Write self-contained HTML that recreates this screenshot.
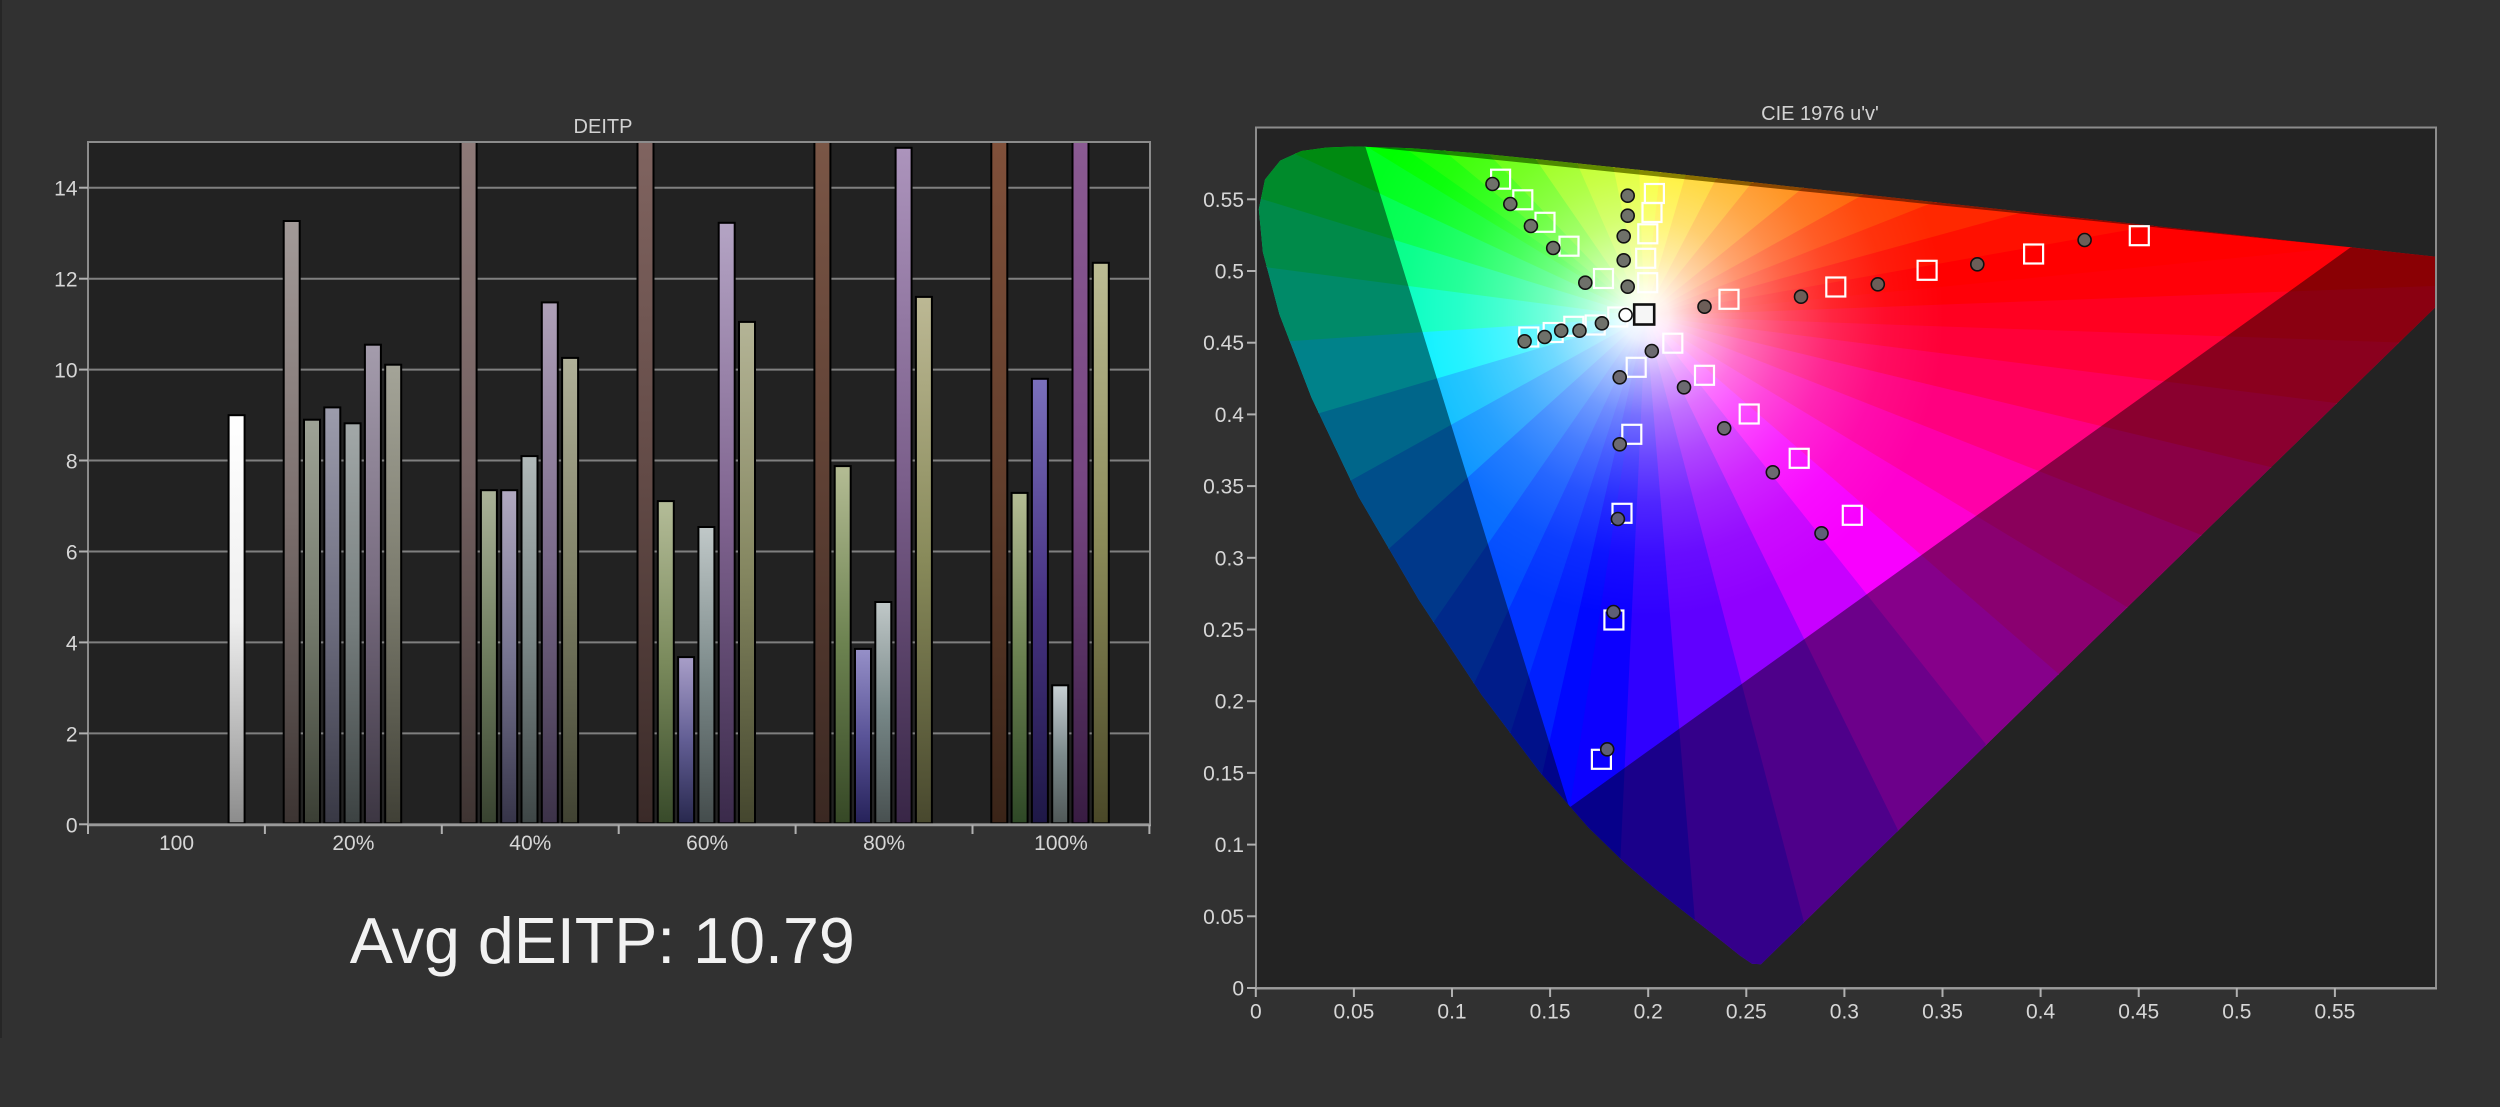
<!DOCTYPE html>
<html><head><meta charset="utf-8"><style>
html,body{margin:0;padding:0;background:#313131;width:2500px;height:1107px;overflow:hidden;}
svg{display:block;}
text{font-family:"Liberation Sans",Arial,sans-serif;}
</style></head><body>
<svg width="2500" height="1107" viewBox="0 0 2500 1107" xmlns="http://www.w3.org/2000/svg">
<defs>
<linearGradient id="b06" x1="0" y1="0" x2="0" y2="1"><stop offset="0" stop-color="#ffffff"/><stop offset=".5" stop-color="#efefef"/><stop offset="1" stop-color="#8c8c8c"/></linearGradient>
<linearGradient id="b10" x1="0" y1="0" x2="0" y2="1"><stop offset="0" stop-color="#a29a98"/><stop offset=".5" stop-color="#7a6e6c"/><stop offset="1" stop-color="#3c3432"/></linearGradient>
<linearGradient id="b11" x1="0" y1="0" x2="0" y2="1"><stop offset="0" stop-color="#9ea296"/><stop offset=".5" stop-color="#747a6c"/><stop offset="1" stop-color="#3a3e34"/></linearGradient>
<linearGradient id="b12" x1="0" y1="0" x2="0" y2="1"><stop offset="0" stop-color="#9c9cac"/><stop offset=".5" stop-color="#6e6e80"/><stop offset="1" stop-color="#383844"/></linearGradient>
<linearGradient id="b13" x1="0" y1="0" x2="0" y2="1"><stop offset="0" stop-color="#a2a8a8"/><stop offset=".5" stop-color="#767e7e"/><stop offset="1" stop-color="#3c4242"/></linearGradient>
<linearGradient id="b14" x1="0" y1="0" x2="0" y2="1"><stop offset="0" stop-color="#a49cac"/><stop offset=".5" stop-color="#786c80"/><stop offset="1" stop-color="#3c3642"/></linearGradient>
<linearGradient id="b15" x1="0" y1="0" x2="0" y2="1"><stop offset="0" stop-color="#a4a498"/><stop offset=".5" stop-color="#7a7a6c"/><stop offset="1" stop-color="#404036"/></linearGradient>
<linearGradient id="b20" x1="0" y1="0" x2="0" y2="1"><stop offset="0" stop-color="#8e7a78"/><stop offset=".5" stop-color="#726060"/><stop offset="1" stop-color="#3e3432"/></linearGradient>
<linearGradient id="b21" x1="0" y1="0" x2="0" y2="1"><stop offset="0" stop-color="#aab298"/><stop offset=".5" stop-color="#6e7c5e"/><stop offset="1" stop-color="#384230"/></linearGradient>
<linearGradient id="b22" x1="0" y1="0" x2="0" y2="1"><stop offset="0" stop-color="#b0a8c0"/><stop offset=".5" stop-color="#767490"/><stop offset="1" stop-color="#363448"/></linearGradient>
<linearGradient id="b23" x1="0" y1="0" x2="0" y2="1"><stop offset="0" stop-color="#b0b8b8"/><stop offset=".5" stop-color="#7a8686"/><stop offset="1" stop-color="#3e4646"/></linearGradient>
<linearGradient id="b24" x1="0" y1="0" x2="0" y2="1"><stop offset="0" stop-color="#aea0b8"/><stop offset=".5" stop-color="#7a6a8a"/><stop offset="1" stop-color="#3c3248"/></linearGradient>
<linearGradient id="b25" x1="0" y1="0" x2="0" y2="1"><stop offset="0" stop-color="#b0b098"/><stop offset=".5" stop-color="#7c7e64"/><stop offset="1" stop-color="#404232"/></linearGradient>
<linearGradient id="b30" x1="0" y1="0" x2="0" y2="1"><stop offset="0" stop-color="#806460"/><stop offset=".5" stop-color="#624a46"/><stop offset="1" stop-color="#3a2a28"/></linearGradient>
<linearGradient id="b31" x1="0" y1="0" x2="0" y2="1"><stop offset="0" stop-color="#b4bc98"/><stop offset=".5" stop-color="#7a8a5c"/><stop offset="1" stop-color="#384a2a"/></linearGradient>
<linearGradient id="b32" x1="0" y1="0" x2="0" y2="1"><stop offset="0" stop-color="#a89ec8"/><stop offset=".5" stop-color="#625e94"/><stop offset="1" stop-color="#28284e"/></linearGradient>
<linearGradient id="b33" x1="0" y1="0" x2="0" y2="1"><stop offset="0" stop-color="#c0c8c8"/><stop offset=".5" stop-color="#7c8a8a"/><stop offset="1" stop-color="#444c4c"/></linearGradient>
<linearGradient id="b34" x1="0" y1="0" x2="0" y2="1"><stop offset="0" stop-color="#b4a4c4"/><stop offset=".5" stop-color="#7e628e"/><stop offset="1" stop-color="#3a2a4a"/></linearGradient>
<linearGradient id="b35" x1="0" y1="0" x2="0" y2="1"><stop offset="0" stop-color="#b4b496"/><stop offset=".5" stop-color="#848660"/><stop offset="1" stop-color="#44462e"/></linearGradient>
<linearGradient id="b40" x1="0" y1="0" x2="0" y2="1"><stop offset="0" stop-color="#7a5646"/><stop offset=".5" stop-color="#5e4034"/><stop offset="1" stop-color="#3a2822"/></linearGradient>
<linearGradient id="b41" x1="0" y1="0" x2="0" y2="1"><stop offset="0" stop-color="#b4bc94"/><stop offset=".5" stop-color="#6c8250"/><stop offset="1" stop-color="#364826"/></linearGradient>
<linearGradient id="b42" x1="0" y1="0" x2="0" y2="1"><stop offset="0" stop-color="#9690c8"/><stop offset=".5" stop-color="#5a5498"/><stop offset="1" stop-color="#26225a"/></linearGradient>
<linearGradient id="b43" x1="0" y1="0" x2="0" y2="1"><stop offset="0" stop-color="#c0c8c8"/><stop offset=".5" stop-color="#768686"/><stop offset="1" stop-color="#485050"/></linearGradient>
<linearGradient id="b44" x1="0" y1="0" x2="0" y2="1"><stop offset="0" stop-color="#ac94bc"/><stop offset=".5" stop-color="#7a5e8a"/><stop offset="1" stop-color="#382646"/></linearGradient>
<linearGradient id="b45" x1="0" y1="0" x2="0" y2="1"><stop offset="0" stop-color="#bcb894"/><stop offset=".5" stop-color="#888a5a"/><stop offset="1" stop-color="#48482e"/></linearGradient>
<linearGradient id="b50" x1="0" y1="0" x2="0" y2="1"><stop offset="0" stop-color="#80503a"/><stop offset=".5" stop-color="#623e2c"/><stop offset="1" stop-color="#3a2418"/></linearGradient>
<linearGradient id="b51" x1="0" y1="0" x2="0" y2="1"><stop offset="0" stop-color="#b4bc94"/><stop offset=".5" stop-color="#6a8050"/><stop offset="1" stop-color="#2e4826"/></linearGradient>
<linearGradient id="b52" x1="0" y1="0" x2="0" y2="1"><stop offset="0" stop-color="#7a70bc"/><stop offset=".5" stop-color="#463282"/><stop offset="1" stop-color="#1e1846"/></linearGradient>
<linearGradient id="b53" x1="0" y1="0" x2="0" y2="1"><stop offset="0" stop-color="#c8d0d4"/><stop offset=".5" stop-color="#7c8a8c"/><stop offset="1" stop-color="#505858"/></linearGradient>
<linearGradient id="b54" x1="0" y1="0" x2="0" y2="1"><stop offset="0" stop-color="#8a5a92"/><stop offset=".5" stop-color="#764682"/><stop offset="1" stop-color="#381c42"/></linearGradient>
<linearGradient id="b55" x1="0" y1="0" x2="0" y2="1"><stop offset="0" stop-color="#bcbc94"/><stop offset=".5" stop-color="#8a8a58"/><stop offset="1" stop-color="#4a4828"/></linearGradient>

<clipPath id="locus"><path d="M1761.0,964.2 L1752.0,963.8 L1740.0,955.6 L1717.6,937.8 L1681.0,909.3 L1655.8,889.3 L1625.1,863.1 L1588.4,827.5 L1539.4,771.5 L1481.6,694.9 L1418.8,599.7 L1358.5,496.6 L1311.5,397.6 L1279.4,314.2 L1262.9,252.2 L1258.8,209.1 L1265.0,179.5 L1280.2,160.6 L1301.4,151.0 L1326.8,147.5 L1354.5,146.5 L1411.8,148.2 L1477.6,153.3 L1557.1,161.2 L1654.5,171.5 L1771.9,184.4 L1908.0,199.2 L2049.6,214.6 L2178.8,228.6 L2279.3,239.6 L2350.5,247.3 L2402.6,253.1 L2436,256.7 L2436,306.6 Z"/></clipPath>
<clipPath id="tri"><polygon points="1365.3,146.5 2350.7,247.3 1569.3,807.6"/></clipPath>
<radialGradient id="glow" gradientUnits="userSpaceOnUse" cx="1645" cy="316.5" r="300">
<stop offset="0" stop-color="#fff" stop-opacity="1"/>
<stop offset="0.08" stop-color="#fff" stop-opacity="0.92"/>
<stop offset="0.2" stop-color="#fff" stop-opacity="0.66"/>
<stop offset="0.33" stop-color="#fff" stop-opacity="0.44"/>
<stop offset="0.47" stop-color="#fff" stop-opacity="0.28"/>
<stop offset="0.62" stop-color="#fff" stop-opacity="0.15"/>
<stop offset="0.8" stop-color="#fff" stop-opacity="0.05"/>
<stop offset="1" stop-color="#fff" stop-opacity="0"/>
</radialGradient>
</defs>

<rect x="0" y="0" width="2500" height="1107" fill="#313131"/>
<rect x="0" y="0" width="2" height="1038" fill="#262626"/>

<!-- ============ DEITP BAR CHART ============ -->
<text x="603" y="133" font-size="20" fill="#d2d2d2" text-anchor="middle">DEITP</text>
<rect x="88" y="142" width="1062" height="682.3" fill="#222222"/>
<g stroke="#808080" stroke-width="2">
<line x1="88" y1="733.4" x2="1150" y2="733.4"/>
<line x1="88" y1="642.4" x2="1150" y2="642.4"/>
<line x1="88" y1="551.5" x2="1150" y2="551.5"/>
<line x1="88" y1="460.5" x2="1150" y2="460.5"/>
<line x1="88" y1="369.6" x2="1150" y2="369.6"/>
<line x1="88" y1="278.7" x2="1150" y2="278.7"/>
<line x1="88" y1="187.7" x2="1150" y2="187.7"/>
</g>

<g stroke="#000" stroke-width="2">
<rect x="228.6" y="415.2" width="16" height="408.1" fill="url(#b06)"/>

<rect x="283.7" y="221.0" width="16" height="602.3" fill="url(#b10)"/>
<rect x="304.0" y="419.7" width="16" height="403.6" fill="url(#b11)"/>
<rect x="324.3" y="407.4" width="16" height="415.9" fill="url(#b12)"/>
<rect x="344.6" y="423.3" width="16" height="400.0" fill="url(#b13)"/>
<rect x="364.9" y="344.7" width="16" height="478.6" fill="url(#b14)"/>
<rect x="385.2" y="364.7" width="16" height="458.6" fill="url(#b15)"/>

<rect x="460.6" y="142" width="16" height="681.3" fill="url(#b20)"/>
<rect x="480.9" y="490.2" width="16" height="333.1" fill="url(#b21)"/>
<rect x="501.2" y="490.2" width="16" height="333.1" fill="url(#b22)"/>
<rect x="521.5" y="456.1" width="16" height="367.2" fill="url(#b23)"/>
<rect x="541.8" y="302.4" width="16" height="520.9" fill="url(#b24)"/>
<rect x="562.1" y="357.9" width="16" height="465.4" fill="url(#b25)"/>

<rect x="637.5" y="142" width="16" height="681.3" fill="url(#b30)"/>
<rect x="657.8" y="501.1" width="16" height="322.2" fill="url(#b31)"/>
<rect x="678.1" y="657.1" width="16" height="166.2" fill="url(#b32)"/>
<rect x="698.4" y="527.0" width="16" height="296.3" fill="url(#b33)"/>
<rect x="718.7" y="222.8" width="16" height="600.5" fill="url(#b34)"/>
<rect x="739.0" y="321.9" width="16" height="501.4" fill="url(#b35)"/>

<rect x="814.4" y="142" width="16" height="681.3" fill="url(#b40)"/>
<rect x="834.7" y="466.1" width="16" height="357.2" fill="url(#b41)"/>
<rect x="855.0" y="648.9" width="16" height="174.4" fill="url(#b42)"/>
<rect x="875.3" y="602.0" width="16" height="221.3" fill="url(#b43)"/>
<rect x="895.6" y="147.8" width="16" height="675.5" fill="url(#b44)"/>
<rect x="915.9" y="296.9" width="16" height="526.4" fill="url(#b45)"/>

<rect x="991.3" y="142" width="16" height="681.3" fill="url(#b50)"/>
<rect x="1011.6" y="492.9" width="16" height="330.4" fill="url(#b51)"/>
<rect x="1031.9" y="378.8" width="16" height="444.5" fill="url(#b52)"/>
<rect x="1052.2" y="685.3" width="16" height="138.0" fill="url(#b53)"/>
<rect x="1072.5" y="142" width="16" height="681.3" fill="url(#b54)"/>
<rect x="1092.8" y="262.8" width="16" height="560.5" fill="url(#b55)"/>
</g>

<rect x="88" y="142" width="1062" height="682.3" fill="none" stroke="#8c8c8c" stroke-width="2"/>
<line x1="87" y1="825" x2="1151" y2="825" stroke="#9a9a9a" stroke-width="2.5"/>
<g stroke="#b0b0b0" stroke-width="2">
<line x1="79" y1="824.3" x2="88" y2="824.3"/>
<line x1="79" y1="733.4" x2="88" y2="733.4"/>
<line x1="79" y1="642.4" x2="88" y2="642.4"/>
<line x1="79" y1="551.5" x2="88" y2="551.5"/>
<line x1="79" y1="460.5" x2="88" y2="460.5"/>
<line x1="79" y1="369.6" x2="88" y2="369.6"/>
<line x1="79" y1="278.7" x2="88" y2="278.7"/>
<line x1="79" y1="187.7" x2="88" y2="187.7"/>
<line x1="88" y1="825" x2="88" y2="834"/>
<line x1="264.9" y1="825" x2="264.9" y2="834"/>
<line x1="441.8" y1="825" x2="441.8" y2="834"/>
<line x1="618.7" y1="825" x2="618.7" y2="834"/>
<line x1="795.6" y1="825" x2="795.6" y2="834"/>
<line x1="972.5" y1="825" x2="972.5" y2="834"/>
<line x1="1149.4" y1="825" x2="1149.4" y2="834"/>
</g>
<g font-size="21" fill="#d6d6d6" text-anchor="end">
<text x="77.5" y="832.3">0</text>
<text x="77.5" y="741.4">2</text>
<text x="77.5" y="650.4">4</text>
<text x="77.5" y="559.5">6</text>
<text x="77.5" y="468.5">8</text>
<text x="77.5" y="377.6">10</text>
<text x="77.5" y="286.7">12</text>
<text x="77.5" y="195.7">14</text>
</g>
<g font-size="21" fill="#d6d6d6" text-anchor="middle">
<text x="176.5" y="850">100</text>
<text x="353.4" y="850">20%</text>
<text x="530.3" y="850">40%</text>
<text x="707.2" y="850">60%</text>
<text x="884.1" y="850">80%</text>
<text x="1061" y="850">100%</text>
</g>

<text x="602.3" y="963" font-size="65" fill="#f2f2f2" text-anchor="middle" textLength="505" lengthAdjust="spacingAndGlyphs">Avg dEITP: 10.79</text>

<!-- ============ CIE CHART ============ -->
<text x="1820" y="120" font-size="20" fill="#d2d2d2" text-anchor="middle">CIE 1976 u'v'</text>
<rect x="1256" y="127.5" width="1180" height="860.5" fill="#232323"/>

<g clip-path="url(#locus)">
 <g stroke-width="1.2">
  <polygon points="1645,316.5 1333.2,127 1375.7,127" fill="#00ff00" stroke="#00ff00"/>
  <polygon points="1645,316.5 1375.7,127 1415.9,127" fill="#18ff00" stroke="#18ff00"/>
  <polygon points="1645,316.5 1415.9,127 1463.6,127" fill="#38ff00" stroke="#38ff00"/>
  <polygon points="1645,316.5 1463.6,127 1514.2,127" fill="#60ff00" stroke="#60ff00"/>
  <polygon points="1645,316.5 1514.2,127 1561.8,127" fill="#90ff00" stroke="#90ff00"/>
  <polygon points="1645,316.5 1561.8,127 1605.6,127" fill="#b4ff00" stroke="#b4ff00"/>
  <polygon points="1645,316.5 1605.6,127 1638.3,127" fill="#d8ff00" stroke="#d8ff00"/>
  <polygon points="1645,316.5 1638.3,127 1665.3,127" fill="#f4ff00" stroke="#f4ff00"/>
  <polygon points="1645,316.5 1665.3,127 1700.2,127" fill="#ffec00" stroke="#ffec00"/>
  <polygon points="1645,316.5 1700.2,127 1743.8,127" fill="#ffcc00" stroke="#ffcc00"/>
  <polygon points="1645,316.5 1743.8,127 1797.3,127" fill="#ffa800" stroke="#ffa800"/>
  <polygon points="1645,316.5 1797.3,127 1878.9,127" fill="#ff8400" stroke="#ff8400"/>
  <polygon points="1645,316.5 1878.9,127 1986.2,127" fill="#ff6000" stroke="#ff6000"/>
  <polygon points="1645,316.5 1986.2,127 2126.4,127" fill="#ff4000" stroke="#ff4000"/>
  <polygon points="1645,316.5 2126.4,127 2335,127" fill="#ff2800" stroke="#ff2800"/>
  <polygon points="1645,316.5 2335,127 2436,176.0" fill="#ff1000" stroke="#ff1000"/>
  <polygon points="1645,316.5 2436,176.0 2436,238.9" fill="#ff0000" stroke="#ff0000"/>
  <polygon points="1645,316.5 2436,238.9 2436,286.5" fill="#ff0008" stroke="#ff0008"/>
  <polygon points="1645,316.5 2436,286.5 2436,344.4" fill="#ff0020" stroke="#ff0020"/>
  <polygon points="1645,316.5 2436,344.4 2436,416.2" fill="#ff0038" stroke="#ff0038"/>
  <polygon points="1645,316.5 2436,416.2 2436,507.6" fill="#ff0058" stroke="#ff0058"/>
  <polygon points="1645,316.5 2436,507.6 2436,628.2" fill="#ff0080" stroke="#ff0080"/>
  <polygon points="1645,316.5 2436,628.2 2436,794.4" fill="#ff00a8" stroke="#ff00a8"/>
  <polygon points="1645,316.5 2436,794.4 2420.3,988" fill="#ff00d0" stroke="#ff00d0"/>
  <polygon points="1645,316.5 2420.3,988 2179,988" fill="#f800ff" stroke="#f800ff"/>
  <polygon points="1645,316.5 2179,988 1974.9,988" fill="#c800ff" stroke="#c800ff"/>
  <polygon points="1645,316.5 1974.9,988 1820.6,988" fill="#9000ff" stroke="#9000ff"/>
  <polygon points="1645,316.5 1820.6,988 1699.8,988" fill="#6000ff" stroke="#6000ff"/>
  <polygon points="1645,316.5 1699.8,988 1613.8,988" fill="#3000ff" stroke="#3000ff"/>
  <polygon points="1645,316.5 1613.8,988 1541.5,988" fill="#0c00ff" stroke="#0c00ff"/>
  <polygon points="1645,316.5 1541.5,988 1493.2,988" fill="#0008ff" stroke="#0008ff"/>
  <polygon points="1645,316.5 1493.2,988 1427,988" fill="#0020ff" stroke="#0020ff"/>
  <polygon points="1645,316.5 1427,988 1331.1,988" fill="#0034ff" stroke="#0034ff"/>
  <polygon points="1645,316.5 1331.1,988 1256,877.1" fill="#004cff" stroke="#004cff"/>
  <polygon points="1645,316.5 1256,877.1 1256,668.1" fill="#0068ff" stroke="#0068ff"/>
  <polygon points="1645,316.5 1256,668.1 1256,532.4" fill="#0090ff" stroke="#0090ff"/>
  <polygon points="1645,316.5 1256,532.4 1256,431.2" fill="#00bcff" stroke="#00bcff"/>
  <polygon points="1645,316.5 1256,431.2 1256,342.9" fill="#00f0ff" stroke="#00f0ff"/>
  <polygon points="1645,316.5 1256,342.9 1256,265.3" fill="#00ffc0" stroke="#00ffc0"/>
  <polygon points="1645,316.5 1256,265.3 1256,196.6" fill="#00ff88" stroke="#00ff88"/>
  <polygon points="1645,316.5 1256,196.6 1256,135.2" fill="#00ff50" stroke="#00ff50"/>
  <polygon points="1645,316.5 1256,135.2 1333.2,127" fill="#00ff20" stroke="#00ff20"/>
 </g>
 <rect x="1360" y="140" width="1000" height="675" fill="url(#glow)" clip-path="url(#tri)"/>
 <path fill-rule="evenodd" fill="#000" fill-opacity="0.46" d="M1761.0,964.2 L1752.0,963.8 L1740.0,955.6 L1717.6,937.8 L1681.0,909.3 L1655.8,889.3 L1625.1,863.1 L1588.4,827.5 L1539.4,771.5 L1481.6,694.9 L1418.8,599.7 L1358.5,496.6 L1311.5,397.6 L1279.4,314.2 L1262.9,252.2 L1258.8,209.1 L1265.0,179.5 L1280.2,160.6 L1301.4,151.0 L1326.8,147.5 L1354.5,146.5 L1411.8,148.2 L1477.6,153.3 L1557.1,161.2 L1654.5,171.5 L1771.9,184.4 L1908.0,199.2 L2049.6,214.6 L2178.8,228.6 L2279.3,239.6 L2350.5,247.3 L2402.6,253.1 L2436,256.7 L2436,306.6 Z M1365.3,146.5 L2350.7,247.3 L1569.3,807.6 Z"/>
</g>

<g fill="none" stroke="#ffffff" stroke-width="2.2">
<rect x="1491.1" y="169.7" width="19" height="19"/>
<rect x="1513.3" y="190.3" width="19" height="19"/>
<rect x="1535.5" y="212.8" width="19" height="19"/>
<rect x="1559.5" y="236.7" width="19" height="19"/>
<rect x="1594.0" y="269.0" width="19" height="19"/>
<rect x="1644.9" y="184.0" width="19" height="19"/>
<rect x="1642.5" y="203.0" width="19" height="19"/>
<rect x="1638.3" y="224.3" width="19" height="19"/>
<rect x="1636.2" y="248.8" width="19" height="19"/>
<rect x="1638.2" y="273.2" width="19" height="19"/>
<rect x="1608.3" y="307.5" width="19" height="19"/>
<rect x="1585.7" y="315.5" width="19" height="19"/>
<rect x="1564.3" y="316.8" width="19" height="19"/>
<rect x="1543.7" y="323.0" width="19" height="19"/>
<rect x="1519.3" y="327.5" width="19" height="19"/>
<rect x="1663.3" y="333.7" width="19" height="19"/>
<rect x="1626.7" y="357.8" width="19" height="19"/>
<rect x="1622.3" y="424.8" width="19" height="19"/>
<rect x="1695.0" y="365.8" width="19" height="19"/>
<rect x="1739.7" y="404.5" width="19" height="19"/>
<rect x="1789.7" y="448.8" width="19" height="19"/>
<rect x="1719.5" y="289.8" width="19" height="19"/>
<rect x="1826.3" y="277.5" width="19" height="19"/>
<rect x="1917.6" y="260.8" width="19" height="19"/>
<rect x="2024.1" y="244.5" width="19" height="19"/>
<rect x="2129.8" y="226.2" width="19" height="19"/>
<rect x="1612.5" y="503.8" width="19" height="19"/>
<rect x="1842.8" y="505.8" width="19" height="19"/>
<rect x="1604.4" y="610.5" width="19" height="19"/>
<rect x="1591.9" y="749.8" width="19" height="19"/>
</g>
<rect x="1634.2" y="304.5" width="20" height="20" fill="#f6f6f6" stroke="#111" stroke-width="2.6"/>

<g stroke="#111" stroke-width="1.6">
<g fill="#6f716a">
<circle cx="1492.5" cy="184" r="6.5"/>
<circle cx="1510.3" cy="204" r="6.5"/>
<circle cx="1530.9" cy="226" r="6.5"/>
<circle cx="1553.2" cy="248" r="6.5"/>
<circle cx="1585.3" cy="282.7" r="6.5"/>
<circle cx="1627.7" cy="195.7" r="6.5"/>
<circle cx="1627.7" cy="215.7" r="6.5"/>
<circle cx="1623.7" cy="236.3" r="6.5"/>
<circle cx="1623.7" cy="260.3" r="6.5"/>
<circle cx="1627.7" cy="286.7" r="6.5"/>
<circle cx="1601.9" cy="323.3" r="6.5"/>
<circle cx="1579.5" cy="330.7" r="6.5"/>
<circle cx="1561.2" cy="330.7" r="6.5"/>
<circle cx="1544.7" cy="337" r="6.5"/>
<circle cx="1524.6" cy="341.3" r="6.5"/>
</g>
<g fill="#6c6a70">
<circle cx="1651.8" cy="351" r="6.5"/>
<circle cx="1619.7" cy="377.3" r="6.5"/>
<circle cx="1619.7" cy="444.3" r="6.5"/>
<circle cx="1684" cy="387.3" r="6.5"/>
<circle cx="1724.2" cy="428.3" r="6.5"/>
<circle cx="1772.8" cy="472.3" r="6.5"/>
</g>
<g fill="#6c5e58">
<circle cx="1704.5" cy="306.7" r="6.5"/>
<circle cx="1801" cy="296.7" r="6.5"/>
<circle cx="1877.8" cy="284.3" r="6.5"/>
<circle cx="1977.3" cy="264.3" r="6.5"/>
<circle cx="2084.6" cy="240" r="6.5"/>
</g>
<g fill="#5e5e76">
<circle cx="1617.9" cy="519" r="6.5"/>
<circle cx="1821.5" cy="533.3" r="6.5"/>
<circle cx="1613.5" cy="612" r="6.5"/>
<circle cx="1607.2" cy="749.3" r="6.5"/>
</g>
<circle cx="1625.6" cy="315" r="6.5" fill="#ffffff"/>
</g>

<rect x="1256" y="127.5" width="1180" height="860.5" fill="none" stroke="#8c8c8c" stroke-width="2"/>
<line x1="1255" y1="988.5" x2="2437" y2="988.5" stroke="#9a9a9a" stroke-width="2"/>
<g stroke="#b0b0b0" stroke-width="2">
<line x1="1247" y1="988" x2="1256" y2="988"/>
<line x1="1247" y1="916.3" x2="1256" y2="916.3"/>
<line x1="1247" y1="844.6" x2="1256" y2="844.6"/>
<line x1="1247" y1="772.9" x2="1256" y2="772.9"/>
<line x1="1247" y1="701.2" x2="1256" y2="701.2"/>
<line x1="1247" y1="629.5" x2="1256" y2="629.5"/>
<line x1="1247" y1="557.8" x2="1256" y2="557.8"/>
<line x1="1247" y1="486.1" x2="1256" y2="486.1"/>
<line x1="1247" y1="414.4" x2="1256" y2="414.4"/>
<line x1="1247" y1="342.7" x2="1256" y2="342.7"/>
<line x1="1247" y1="271.0" x2="1256" y2="271.0"/>
<line x1="1247" y1="199.3" x2="1256" y2="199.3"/>
<line x1="1255.8" y1="988" x2="1255.8" y2="997"/>
<line x1="1353.9" y1="988" x2="1353.9" y2="997"/>
<line x1="1452" y1="988" x2="1452" y2="997"/>
<line x1="1550.1" y1="988" x2="1550.1" y2="997"/>
<line x1="1648.2" y1="988" x2="1648.2" y2="997"/>
<line x1="1746.3" y1="988" x2="1746.3" y2="997"/>
<line x1="1844.4" y1="988" x2="1844.4" y2="997"/>
<line x1="1942.5" y1="988" x2="1942.5" y2="997"/>
<line x1="2040.6" y1="988" x2="2040.6" y2="997"/>
<line x1="2138.7" y1="988" x2="2138.7" y2="997"/>
<line x1="2236.8" y1="988" x2="2236.8" y2="997"/>
<line x1="2334.9" y1="988" x2="2334.9" y2="997"/>
</g>
<g font-size="21" fill="#d6d6d6" text-anchor="end">
<text x="1244" y="995.5">0</text>
<text x="1244" y="923.8">0.05</text>
<text x="1244" y="852.1">0.1</text>
<text x="1244" y="780.4">0.15</text>
<text x="1244" y="708.7">0.2</text>
<text x="1244" y="637.0">0.25</text>
<text x="1244" y="565.3">0.3</text>
<text x="1244" y="493.6">0.35</text>
<text x="1244" y="421.9">0.4</text>
<text x="1244" y="350.2">0.45</text>
<text x="1244" y="278.5">0.5</text>
<text x="1244" y="206.8">0.55</text>
</g>
<g font-size="21" fill="#d6d6d6" text-anchor="middle">
<text x="1255.8" y="1018.5">0</text>
<text x="1353.9" y="1018.5">0.05</text>
<text x="1452" y="1018.5">0.1</text>
<text x="1550.1" y="1018.5">0.15</text>
<text x="1648.2" y="1018.5">0.2</text>
<text x="1746.3" y="1018.5">0.25</text>
<text x="1844.4" y="1018.5">0.3</text>
<text x="1942.5" y="1018.5">0.35</text>
<text x="2040.6" y="1018.5">0.4</text>
<text x="2138.7" y="1018.5">0.45</text>
<text x="2236.8" y="1018.5">0.5</text>
<text x="2334.9" y="1018.5">0.55</text>
</g>
</svg>
</body></html>
